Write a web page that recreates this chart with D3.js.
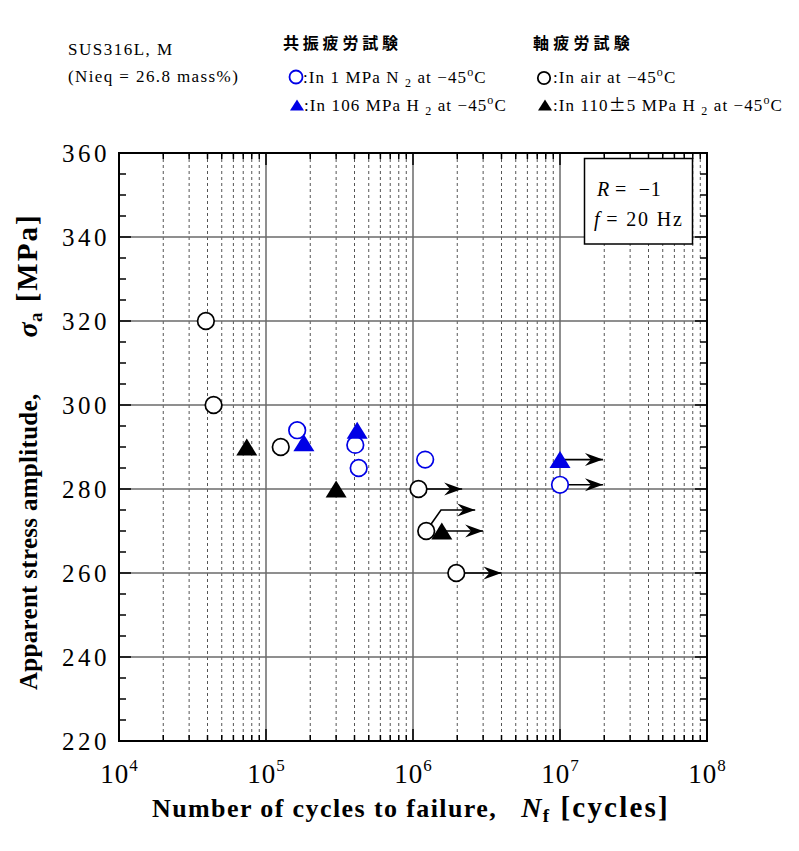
<!DOCTYPE html>
<html>
<head>
<meta charset="utf-8">
<script src="https://cdn.jsdelivr.net/npm/d3@7"></script>
<style>
  html, body { margin: 0; padding: 0; background: #fff; }
  svg { display: block; }
  .serif { font-family: "Liberation Serif", "Times New Roman", serif; }
  .jp { font-family: "Noto Sans CJK JP", sans-serif; font-weight: bold; }
</style>
</head>
<body>
<svg id="chart" width="799" height="851"></svg>
<script>
// S-N data for SUS316L (Nieq = 26.8 mass%) at -45 degC
// Axial fatigue, in air (open black circles)
const airN = [3.9e4, 4.4e4, 1.26e5, 1.09e6, 1.23e6, 1.97e6];
const airS = [320, 300, 290, 280, 270, 260];
// Axial fatigue, in 110 +/- 5 MPa H2 (filled black triangles)
const axH2N = [7.4e4, 3.0e5, 1.57e6];
const axH2S = [290, 280, 270];
// Resonance fatigue, in 1 MPa N2 (open blue circles)
const resN2N = [1.63e5, 4.05e5, 4.27e5, 1.21e6, 1.0e7];
const resN2S = [294, 290.5, 285, 287, 281];
// Resonance fatigue, in 106 MPa H2 (filled blue triangles)
const resH2N = [1.81e5, 4.17e5, 1.0e7];
const resH2S = [291, 294, 287];

// Run-outs: start point, optional knee, end point (N, stress)
const runouts = [
  [[1.09e6, 280], [2.16e6, 280]],
  [[1.23e6, 270], [1.55e6, 275], [2.65e6, 275]],
  [[1.97e6, 260], [4.0e6, 260]],
  [[1.57e6, 270], [3.0e6, 270]],
  [[1.0e7, 281], [1.96e7, 281]],
  [[1.0e7, 287], [1.96e7, 287]]
];

const xDomain = [1e4, 1e8];
const yDomain = [220, 360];
const xMajor = [1e4, 1e5, 1e6, 1e7, 1e8];
const xMajorExp = ["4", "5", "6", "7", "8"];
const yMajor = [220, 240, 260, 280, 300, 320, 340, 360];

const BLUE = "#0000e6";

const svg = d3.select("#chart");
const L = 119, R = 707, T = 153, B = 741;
const x = d3.scaleLog().domain(xDomain).range([L, R]);
const y = d3.scaleLinear().domain(yDomain).range([B, T]);

// minor log positions 2..9 per decade
const xMinor = [];
for (let e = 4; e < 8; e++) for (let m = 2; m <= 9; m++) xMinor.push(m * Math.pow(10, e));
const yMinor = d3.range(220, 361, 5).filter(v => v % 20 !== 0);

const grid = svg.append("g");
// dashed minor verticals
grid.selectAll("line.vmin").data(xMinor).enter().append("line")
  .attr("x1", d => x(d)).attr("x2", d => x(d)).attr("y1", T).attr("y2", B)
  .attr("stroke", "#555").attr("stroke-width", 1).attr("stroke-dasharray", "3,3");
// solid decade verticals
grid.selectAll("line.vmaj").data(xMajor.slice(1, -1)).enter().append("line")
  .attr("x1", d => x(d)).attr("x2", d => x(d)).attr("y1", T).attr("y2", B)
  .attr("stroke", "#6a6a6a").attr("stroke-width", 1.5);
// solid horizontal lines at major stresses
grid.selectAll("line.hmaj").data(yMajor.slice(1, -1)).enter().append("line")
  .attr("x1", L).attr("x2", R).attr("y1", d => y(d)).attr("y2", d => y(d))
  .attr("stroke", "#6a6a6a").attr("stroke-width", 1.5);

// axis ticks (inward on all four sides)
const ticks = svg.append("g").attr("stroke", "#000").attr("stroke-width", 1.5);
yMajor.forEach(v => {
  ticks.append("line").attr("x1", L).attr("x2", L + 12).attr("y1", y(v)).attr("y2", y(v));
  ticks.append("line").attr("x1", R).attr("x2", R - 12).attr("y1", y(v)).attr("y2", y(v));
});
yMinor.forEach(v => {
  ticks.append("line").attr("x1", L).attr("x2", L + 7).attr("y1", y(v)).attr("y2", y(v));
  ticks.append("line").attr("x1", R).attr("x2", R - 7).attr("y1", y(v)).attr("y2", y(v));
});
xMinor.forEach(v => {
  ticks.append("line").attr("x1", x(v)).attr("x2", x(v)).attr("y1", T).attr("y2", T + 6);
  ticks.append("line").attr("x1", x(v)).attr("x2", x(v)).attr("y1", B).attr("y2", B - 6);
});
xMajor.forEach(v => {
  ticks.append("line").attr("x1", x(v)).attr("x2", x(v)).attr("y1", T).attr("y2", T + 12);
  ticks.append("line").attr("x1", x(v)).attr("x2", x(v)).attr("y1", B).attr("y2", B - 12);
});

// condition box
svg.append("rect").attr("x", 584.5).attr("y", 158.5).attr("width", 108).attr("height", 85.5)
  .attr("fill", "#fff").attr("stroke", "#000").attr("stroke-width", 1.5);
const box = svg.append("text").attr("class", "serif").attr("font-size", 20).attr("fill", "#000");
box.append("tspan").attr("x", 597).attr("y", 196).attr("font-style", "italic").text("R");
box.append("tspan").text(" =  \u22121").attr("xml:space", "preserve").attr("letter-spacing", 0.8);
const box2 = svg.append("text").attr("class", "serif").attr("font-size", 20).attr("fill", "#000");
box2.append("tspan").attr("x", 594).attr("y", 226).attr("font-style", "italic").text("f");
box2.append("tspan").text(" = 20 Hz").attr("letter-spacing", 1.8);

// frame
svg.append("rect").attr("x", L).attr("y", T).attr("width", R - L).attr("height", B - T)
  .attr("fill", "none").attr("stroke", "#000").attr("stroke-width", 2);

// run-out arrows
const arrows = svg.append("g");
const line = d3.line().x(d => x(d[0])).y(d => y(d[1]));
runouts.forEach(pts => {
  arrows.append("path").attr("d", line(pts)).attr("fill", "none")
    .attr("stroke", "#000").attr("stroke-width", 1.6);
  const e = pts[pts.length - 1];
  const tx = x(e[0]), ty = y(e[1]);
  arrows.append("path")
    .attr("d", `M${tx},${ty} L${tx - 18},${ty - 6.5} L${tx - 12},${ty} L${tx - 18},${ty + 6.5} Z`)
    .attr("fill", "#000");
});

// markers
const tri = (cx, cy, w, h) => `M${cx},${cy - h / 2} L${cx + w / 2},${cy + h / 2} L${cx - w / 2},${cy + h / 2} Z`;
const marks = svg.append("g");
marks.selectAll("circle.air").data(d3.zip(airN, airS)).enter().append("circle")
  .attr("cx", d => x(d[0])).attr("cy", d => y(d[1])).attr("r", 8.3)
  .attr("fill", "#fff").attr("stroke", "#000").attr("stroke-width", 1.7);
marks.selectAll("circle.n2").data(d3.zip(resN2N, resN2S)).enter().append("circle")
  .attr("cx", d => x(d[0])).attr("cy", d => y(d[1])).attr("r", 8.3)
  .attr("fill", "#fff").attr("stroke", BLUE).attr("stroke-width", 1.7);
marks.selectAll("path.axh2").data(d3.zip(axH2N, axH2S)).enter().append("path")
  .attr("d", d => tri(x(d[0]), y(d[1]), 21, 17)).attr("fill", "#000");
marks.selectAll("path.resh2").data(d3.zip(resH2N, resH2S)).enter().append("path")
  .attr("d", d => tri(x(d[0]), y(d[1]), 21, 17)).attr("fill", BLUE);

// tick labels
const yl = svg.append("g").attr("class", "serif").attr("font-size", 25).attr("fill", "#000");
yMajor.forEach(v => {
  yl.append("text").attr("x", 110).attr("y", y(v) + 9).attr("text-anchor", "end")
    .attr("letter-spacing", 3.5).text(v);
});
const xl = svg.append("g").attr("class", "serif").attr("fill", "#000");
xMajor.forEach((v, i) => {
  const t = xl.append("text").attr("x", x(v)).attr("y", 783).attr("text-anchor", "middle")
    .attr("font-size", 27);
  t.append("tspan").text("10").attr("letter-spacing", 1);
  t.append("tspan").attr("dy", -12).attr("font-size", 17).text(xMajorExp[i]);
});

// axis titles
const xt = svg.append("text").attr("class", "serif").attr("x", 152).attr("y", 817)
  .attr("font-size", 26).attr("font-weight", "bold").attr("fill", "#000").attr("letter-spacing", 1.4);
xt.append("tspan").text("Number of cycles to failure,");
xt.append("tspan").attr("dx", 24).attr("font-style", "italic").attr("font-size", 28).text("N");
xt.append("tspan").attr("dy", 5).attr("font-size", 19).text("f");
xt.append("tspan").attr("dy", -5).attr("dx", 10).attr("font-size", 29).attr("letter-spacing", 2.2).text("[cycles]");

const yt = svg.append("text").attr("class", "serif")
  .attr("transform", "translate(37,690) rotate(-90)")
  .attr("font-size", 25).attr("font-weight", "bold").attr("fill", "#000").attr("letter-spacing", 0.3);
yt.append("tspan").text("Apparent stress amplitude,");
yt.append("tspan").attr("dx", 56).attr("font-style", "italic").attr("font-size", 28).text("\u03c3");
yt.append("tspan").attr("dy", 5).attr("font-size", 19).text("a");
yt.append("tspan").attr("dy", -5).attr("dx", 10).attr("font-size", 29).attr("letter-spacing", 2).text("[MPa]");

// header / legend
const hd = svg.append("g").attr("class", "serif").attr("font-size", 17).attr("fill", "#000");
hd.append("text").attr("x", 68).attr("y", 55).attr("letter-spacing", 1.5).text("SUS316L, M");
hd.append("text").attr("x", 68).attr("y", 82).attr("letter-spacing", 1.4).text("(Nieq = 26.8 mass%)");

svg.append("text").attr("class", "jp").attr("x", 283).attr("y", 49).attr("font-size", 16)
  .attr("letter-spacing", 3.8).attr("fill", "#000").text("共振疲労試験");
svg.append("text").attr("class", "jp").attr("x", 533).attr("y", 49).attr("font-size", 16)
  .attr("letter-spacing", 4.2).attr("fill", "#000").text("軸疲労試験");

function legendText(x0, y0, parts) {
  const t = svg.append("text").attr("class", "serif").attr("x", x0).attr("y", y0)
    .attr("font-size", 17).attr("fill", "#000").attr("letter-spacing", 1.1);
  parts.forEach(p => {
    const s = t.append("tspan").text(p.t);
    if (p.sub) s.attr("dy", 4).attr("font-size", 12);
    if (p.sup) s.attr("dy", -7).attr("font-size", 12);
    if (p.back) s.attr("dy", p.back);
    if (p.cjk) s.attr("font-family", "Noto Sans CJK JP").attr("font-size", 17);
  });
}
// legend markers
svg.append("circle").attr("cx", 296).attr("cy", 77).attr("r", 6.5)
  .attr("fill", "#fff").attr("stroke", BLUE).attr("stroke-width", 1.8);
svg.append("path").attr("d", tri(297, 105, 14, 11)).attr("fill", BLUE);
svg.append("circle").attr("cx", 544).attr("cy", 78).attr("r", 6.2)
  .attr("fill", "#fff").attr("stroke", "#000").attr("stroke-width", 1.8);
svg.append("path").attr("d", tri(545, 105, 14, 11)).attr("fill", "#000");

legendText(303, 83, [{t: ":In 1 MPa N "}, {t: "2", sub: true}, {t: " at \u221245", back: -4},
  {t: "o", sup: true}, {t: "C", back: 7}]);
legendText(304, 111, [{t: ":In 106 MPa H "}, {t: "2", sub: true}, {t: " at \u221245", back: -4},
  {t: "o", sup: true}, {t: "C", back: 7}]);
legendText(553, 83, [{t: ":In air at \u221245"}, {t: "o", sup: true}, {t: "C", back: 7}]);
legendText(553, 111, [{t: ":In 110"}, {t: "\u00b1", cjk: true}, {t: "5 MPa H "}, {t: "2", sub: true},
  {t: " at \u221245", back: -4}, {t: "o", sup: true}, {t: "C", back: 7}]);
</script>
</body>
</html>
